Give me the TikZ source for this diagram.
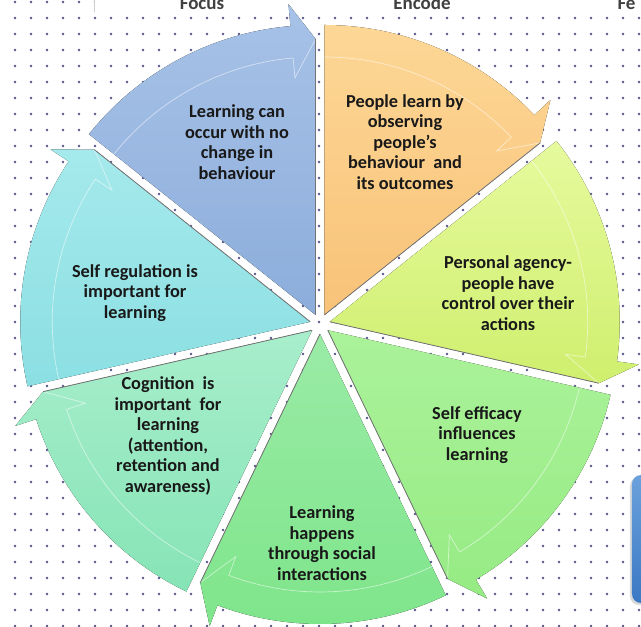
\documentclass[tikz,border=0pt]{standalone}
\usepackage{fontspec}
\setmainfont{Carlito}
\usepackage{tikz}
\usetikzlibrary{shadows}

\definecolor{dotc}{HTML}{55558A}
\definecolor{bluetop}{HTML}{A7C2E7}
\definecolor{bluebot}{HTML}{8CADDB}
\definecolor{orangetop}{HTML}{FDD796}
\definecolor{orangebot}{HTML}{F8C278}
\definecolor{ygtop}{HTML}{E6FA9E}
\definecolor{ygbot}{HTML}{CFEF6E}
\definecolor{greentop}{HTML}{ABF29A}
\definecolor{greenbot}{HTML}{96EB84}
\definecolor{socialtop}{HTML}{9AEBA6}
\definecolor{socialbot}{HTML}{7EE58A}
\definecolor{cogtop}{HTML}{A8EECC}
\definecolor{cogbot}{HTML}{86E4B6}
\definecolor{selftop}{HTML}{A5E9EC}
\definecolor{selfbot}{HTML}{8BDFE2}
\definecolor{boxtop}{HTML}{6BA2DC}
\definecolor{boxbot}{HTML}{3B78C4}

\begin{document}
\begin{tikzpicture}[x=1pt, y=1pt]
	\tikzstyle{wedgetext} = [align=center, font=\fontsize{18.3}{20.5}\selectfont\bfseries, text=black!90]
	\tikzstyle{headtext} = [font=\fontsize{19}{22}\selectfont\bfseries, text=black!75, anchor=base]
	\tikzstyle{tipedge} = [draw=black!55, line width=0.8pt]
	\tikzstyle{innerarrow} = [draw=white, opacity=0.55, line width=0.7pt]
	\tikzstyle{bluebox} = [rounded corners=9pt, minimum width=36pt, minimum height=128pt, top color=boxtop, bottom color=boxbot, drop shadow={shadow xshift=-2pt, shadow yshift=-2pt, opacity=0.3}]
	\useasboundingbox (-320,-303) rectangle (321,324);
	% dotted paper
	\fill[white] (-320,-303) rectangle (321,324);
	\foreach \i in {0,...,39}
		\foreach \j in {0,...,39}
			\fill[dotc] (-305+16*\i, 322-16*\j) circle (1.35);
	% header strip
	\fill[white] (-226,312) rectangle (321,324);
	\draw[black!20] (-226,312) -- (-226,324);
	\node[headtext] (focus) at (-118,314) {Focus};
	\node[headtext] (encode) at (102,314) {Encode};
	\node[headtext, anchor=base west] (fe) at (294,314) {Fe};
	% next box, cut by the edge
	\node[bluebox] (nextbox) at (330,-215) {};

	% wedge 1
	\begin{scope}[shift={(115.71:10)}]
		\fill[top color=bluetop, bottom color=bluebot] (0,0) -- (141.43:290) arc[start angle=141.43, end angle=95, radius=290] -- (95:312) -- (90:276) -- cycle;
		\draw[innerarrow] (141.43:258) arc[start angle=141.43, end angle=95, radius=258] -- (95:238) -- (90:276);
		\draw[tipedge] (0,0) -- (90:276);
	\end{scope}
	% wedge 2
	\begin{scope}[shift={(64.29:10)}]
		\fill[top color=orangetop, bottom color=orangebot] (0,0) -- (90:290) arc[start angle=90, end angle=43.57, radius=290] -- (43.57:312) -- (38.57:276) -- cycle;
		\draw[innerarrow] (90:258) arc[start angle=90, end angle=43.57, radius=258] -- (43.57:238) -- (38.57:276);
		\draw[tipedge] (0,0) -- (38.57:276);
	\end{scope}
	% wedge 3
	\begin{scope}[shift={(12.86:10)}]
		\fill[top color=ygtop, bottom color=ygbot] (0,0) -- (38.57:290) arc[start angle=38.57, end angle=-7.86, radius=290] -- (-7.86:312) -- (-12.86:276) -- cycle;
		\draw[innerarrow] (38.57:258) arc[start angle=38.57, end angle=-7.86, radius=258] -- (-7.86:238) -- (-12.86:276);
		\draw[tipedge] (0,0) -- (-12.86:276);
	\end{scope}
	% wedge 4
	\begin{scope}[shift={(-38.57:10)}]
		\fill[top color=greentop, bottom color=greenbot] (0,0) -- (-12.86:290) arc[start angle=-12.86, end angle=-59.29, radius=290] -- (-59.29:312) -- (-64.29:276) -- cycle;
		\draw[innerarrow] (-12.86:258) arc[start angle=-12.86, end angle=-59.29, radius=258] -- (-59.29:238) -- (-64.29:276);
		\draw[tipedge] (0,0) -- (-64.29:276);
	\end{scope}
	% wedge 5
	\begin{scope}[shift={(-90:10)}]
		\fill[top color=socialtop, bottom color=socialbot] (0,0) -- (-64.29:290) arc[start angle=-64.29, end angle=-110.71, radius=290] -- (-110.71:312) -- (-115.71:276) -- cycle;
		\draw[innerarrow] (-64.29:258) arc[start angle=-64.29, end angle=-110.71, radius=258] -- (-110.71:238) -- (-115.71:276);
		\draw[tipedge] (0,0) -- (-115.71:276);
	\end{scope}
	% wedge 6
	\begin{scope}[shift={(-141.43:10)}]
		\fill[top color=cogtop, bottom color=cogbot] (0,0) -- (-115.71:290) arc[start angle=-115.71, end angle=-162.14, radius=290] -- (-162.14:312) -- (-167.14:276) -- cycle;
		\draw[innerarrow] (-115.71:258) arc[start angle=-115.71, end angle=-162.14, radius=258] -- (-162.14:238) -- (-167.14:276);
		\draw[tipedge] (0,0) -- (-167.14:276);
	\end{scope}
	% wedge 7
	\begin{scope}[shift={(167.14:10)}]
		\fill[top color=selftop, bottom color=selfbot] (0,0) -- (192.86:290) arc[start angle=192.86, end angle=146.43, radius=290] -- (146.43:312) -- (141.43:276) -- cycle;
		\draw[innerarrow] (192.86:258) arc[start angle=192.86, end angle=146.43, radius=258] -- (146.43:238) -- (141.43:276);
		\draw[tipedge] (0,0) -- (141.43:276);
	\end{scope}

	% texts
	\node[wedgetext] (nochange) at (-83,182) {Learning can\\occur with no\\change in\\behaviour};
	\node[wedgetext] (observing) at (85,182) {People learn by\\observing\\people’s\\behaviour\ \ and\\its outcomes};
	\node[wedgetext] (agency) at (188,31) {Personal agency-\\people have\\control over their\\actions};
	\node[wedgetext] (efficacy) at (157,-111) {Self efficacy\\influences\\learning};
	\node[wedgetext] (social) at (2,-219) {Learning\\happens\\through social\\interactions};
	\node[wedgetext] (cognition) at (-152,-112) {Cognition\ \ is\\important\ \ for\\learning\\(attention,\\retention and\\awareness)};
	\node[wedgetext] (selfreg) at (-185,31) {Self regulation is\\important for\\learning};
\end{tikzpicture}
\end{document}
